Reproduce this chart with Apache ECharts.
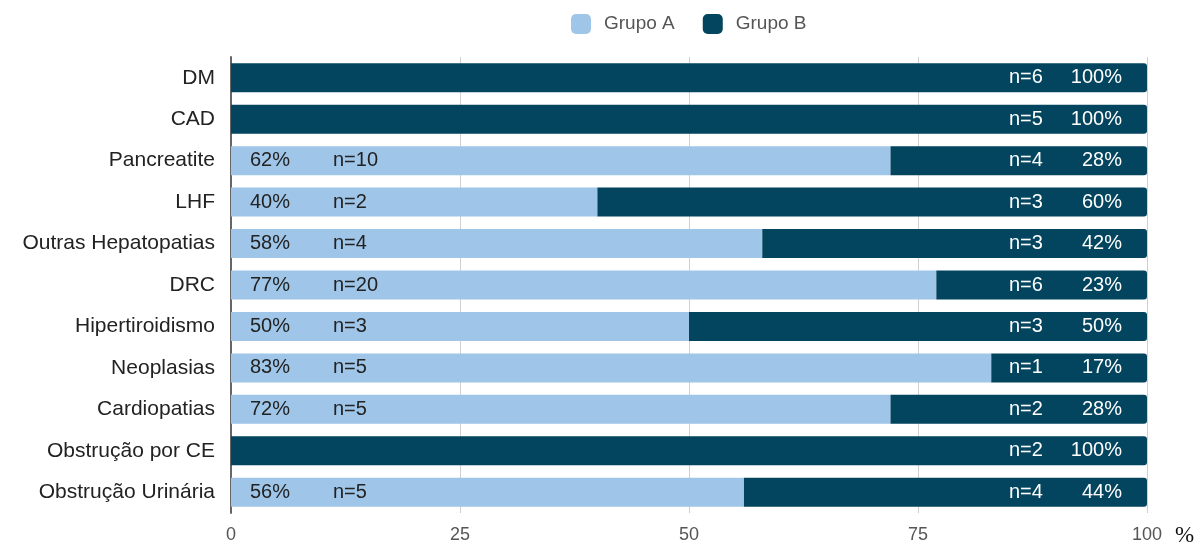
<!DOCTYPE html>
<html>
<head>
<meta charset="utf-8">
<script src="https://cdn.jsdelivr.net/npm/echarts@6/dist/echarts.min.js"></script>
<style>html,body{margin:0;padding:0;background:#fff;}#c{width:1202px;height:550px;}</style>
</head>
<body>
<div id="c"></div>
<script>
const categories = ['DM','CAD','Pancreatite','LHF','Outras Hepatopatias','DRC','Hipertiroidismo','Neoplasias','Cardiopatias','Obstrução por CE','Obstrução Urinária'];
const grupoA = [0,0,72,40,58,77,50,83,72,0,56];
const grupoB = [100,100,28,60,42,23,50,17,28,100,44];
const pctA = ['','','62%','40%','58%','77%','50%','83%','72%','','56%'];
const nA = ['','','n=10','n=2','n=4','n=20','n=3','n=5','n=5','','n=5'];
const nB = ['n=6','n=5','n=4','n=3','n=3','n=6','n=3','n=1','n=2','n=2','n=4'];
const pctB = ['100%','100%','28%','60%','42%','23%','50%','17%','28%','100%','44%'];
const xTicks = [0,25,50,75,100];

const colA = '#9FC5E8', colB = '#03455F';
const chart = echarts.init(document.getElementById('c'));
chart.setOption({
  animation:false,
  textStyle:{fontFamily:'Liberation Sans, Arial, sans-serif'},
  legend:{
    data:['Grupo A','Grupo B'], left:566, top:9,
    itemWidth:20, itemHeight:20, itemGap:28, icon:'roundRect',
    textStyle:{fontSize:19, color:'#555', padding:[0,0,0,8]}
  },
  grid:{left:231, right:55, top:57, bottom:37},
  xAxis:{
    type:'value', min:0, max:100, interval:25,
    axisLine:{show:false}, axisTick:{show:false},
    splitLine:{lineStyle:{color:'#d0d0d0', width:1}},
    axisLabel:{fontSize:18, color:'#555', margin:13, formatter:v=>xTicks.includes(v)?String(v):''},
    name:'%', nameLocation:'end', nameGap:28,
    nameTextStyle:{fontFamily:'Liberation Serif, Times New Roman, serif', fontSize:23, color:'#111', verticalAlign:'top', padding:[11,0,0,0]}
  },
  yAxis:{
    type:'category', data:categories, inverse:true,
    axisTick:{show:false},
    axisLine:{lineStyle:{color:'#666', width:2}},
    axisLabel:{fontSize:21, color:'#222', margin:16}
  },
  series:[
    {
      name:'Grupo A', type:'bar', stack:'t', data:grupoA, barWidth:29,
      itemStyle:{color:colA},
      label:{
        show:true, position:'insideLeft', distance:19,
        formatter:p=>pctA[p.dataIndex]?('{p|'+pctA[p.dataIndex]+'}{n|'+nA[p.dataIndex]+'}'):'',
        rich:{p:{width:83, fontSize:20, color:'#222', align:'left'}, n:{fontSize:20, color:'#222', align:'left'}}
      }
    },
    {
      name:'Grupo B', type:'bar', stack:'t', data:grupoB, barWidth:29,
      itemStyle:{color:colB, borderRadius:[0,3,3,0]},
      label:{
        show:true, position:'insideRight', distance:25,
        formatter:p=>'{n|'+nB[p.dataIndex]+'}{p|'+pctB[p.dataIndex]+'}',
        rich:{n:{width:60, fontSize:20, color:'#fff', align:'left'}, p:{width:53, fontSize:20, color:'#fff', align:'right'}}
      }
    }
  ]
});
</script>
</body>
</html>
